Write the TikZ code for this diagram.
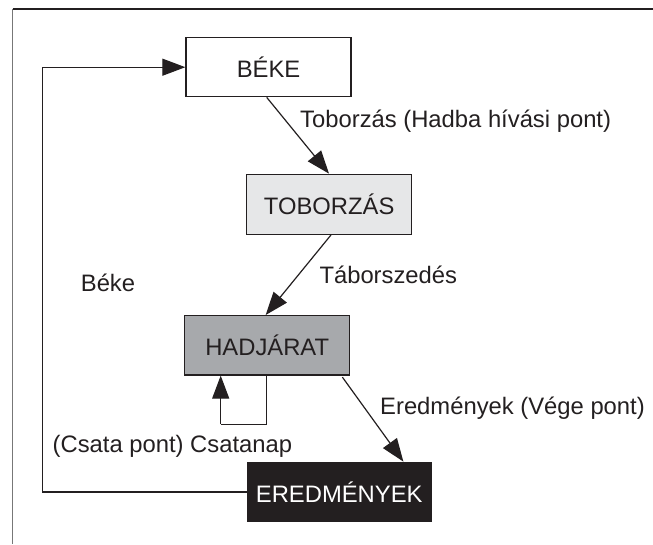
\documentclass[tikz,border=0pt]{standalone}
\usepackage{fontspec}
\setmainfont{Liberation Sans}
\usetikzlibrary{arrows.meta,calc}
\definecolor{ink}{HTML}{231F20}
\definecolor{lightbox}{HTML}{E6E7E8}
\definecolor{midbox}{HTML}{A7A9AC}
\definecolor{framegray}{HTML}{777777}
\tikzset{
  x=1pt,y=-1pt,
  statebox/.style={draw=ink,line width=1.3pt,inner sep=0pt,font=\fontsize{23.8}{28}\selectfont,text=ink},
  lbl/.style={inner sep=0pt,font=\fontsize{23.8}{28}\selectfont,text=ink},
  conn/.style={draw=ink,line width=1.2pt,-{Triangle[length=23pt,width=17pt]}},
  plainline/.style={draw=ink,line width=1.2pt}
}
\begin{document}
\begin{tikzpicture}
\useasboundingbox (0,0) rectangle (653,544);
% frame
\draw[ink,line width=1.6pt] (12.5,9) -- (653,9);
\draw[framegray,line width=1.6pt] (12.5,9) -- (12.5,544);
% states
\node[statebox,minimum width=165pt,minimum height=59pt] (beke) at (268.5,67.2) {BÉKE};
\node[statebox,fill=lightbox,minimum width=165pt,minimum height=60pt] (tob) at (329.2,204.3) {TOBORZÁS};
\node[statebox,fill=midbox,minimum width=165pt,minimum height=59.3pt] (had) at (267.2,345.3) {HADJÁRAT};
\node[statebox,fill=ink,text=white,minimum width=183.7pt,minimum height=59.4pt] (ered) at (339.2,492) {EREDMÉNYEK};
% connectors
\draw[conn] ($(beke.south)+(-1.8,0)$) -- ($(tob.north)+(-0.2,0)$);
\draw[conn] ($(tob.south)+(1.8,0)$) -- ($(had.north)+(-1.5,0)$);
\coordinate (hs) at ($(had.south east)+(-8,1.5)$);
\coordinate (ee) at ($(ered.north west)+(156.7,0)$);
\draw[conn] (hs) -- (ee);
% self loop
\coordinate (l1) at (266.7,424.3);
\coordinate (l2) at (220.7,424.3);
\draw[plainline] (had.south -| l1) -- (l1) -- (l2);
\draw[conn] (l2) -- (had.south -| l2);
% return loop
\coordinate (r1) at (42.3,492);
\coordinate (r2) at (42.3,67.2);
\draw[plainline] (ered.west) -- (r1) -- (r2);
\draw[conn] (r2) -- (beke.west);
% labels
\node[lbl,anchor=west] (t1) at (300,121.7) {Toborzás (Hadba hívási pont)};
\node[lbl,anchor=west] (t2) at (319.3,274.5) {Táborszedés};
\node[lbl] (t3) at (108,283) {Béke};
\node[lbl,anchor=west] (t4) at (380,408) {Eredmények (Vége pont)};
\node[lbl,anchor=east] (t5) at (292.3,446) {(Csata pont) Csatanap};
\end{tikzpicture}
\end{document}
